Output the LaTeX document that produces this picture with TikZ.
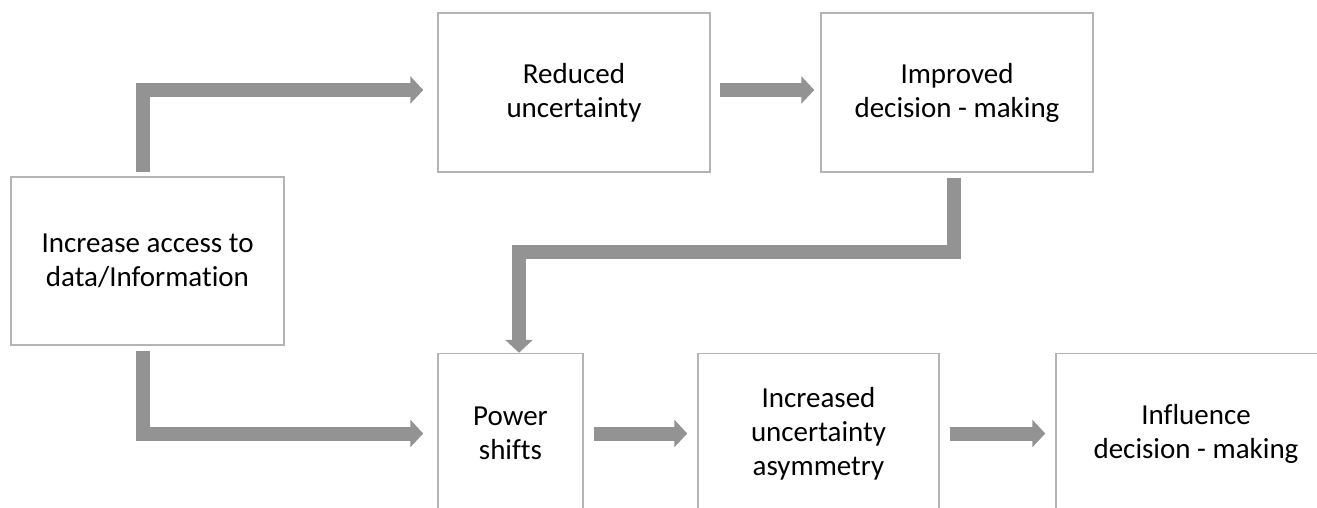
\documentclass[tikz,border=0pt]{standalone}
\usepackage{fontspec}
\setmainfont{Carlito}[Ligatures=NoCommon]
\usetikzlibrary{arrows.meta}
\definecolor{arrowgray}{HTML}{939393}
\definecolor{boxgray}{HTML}{B4B4B4}
\begin{document}
\begin{tikzpicture}[x=1pt,y=-1pt,
  box/.style={draw=boxgray,line width=1.5pt,fill=white,align=center,inner sep=0pt,
    font=\fontsize{29}{34}\selectfont},
  arr/.style={draw=arrowgray,line width=14pt,line join=miter,
    -{Triangle[length=13pt,width=27pt]}}]
\useasboundingbox (0,0) rectangle (1317,508);
\clip (0,0) rectangle (1317,508);
\node[box,minimum width=273pt,minimum height=168pt] (inc) at (147.5,261) {Increase access to\\data/Information};
\node[box,minimum width=272pt,minimum height=159pt] (red) at (574,92.5) {Reduced\\uncertainty};
\node[box,minimum width=272pt,minimum height=159pt] (imp) at (957,92.5) {Improved\\decision - making};
\node[box,minimum width=145pt,minimum height=160pt] (pow) at (510.5,433.5) {Power\\shifts};
\node[box,minimum width=241pt,minimum height=160pt] (incr) at (818.5,433.5) {Increased\\uncertainty\\asymmetry};
\node[box,minimum width=280pt,minimum height=160pt] (infl) at (1196,433.5) {Influence\\decision - making};
\coordinate (bend) at (954,252);
\draw[arr] ([xshift=-4.5pt,yshift=4pt]inc.north) |- ([xshift=-14pt,yshift=2.5pt]red.west);
\draw[arr] ([xshift=9pt,yshift=2.5pt]red.east) -- ([xshift=-6pt,yshift=2.5pt]imp.west);
\draw[arr] ([xshift=-3pt,yshift=-5pt]imp.south) -- (bend) -| ([xshift=8.5pt]pow.north);
\draw[arr] ([xshift=-4.5pt,yshift=-5pt]inc.south) |- ([xshift=-14pt]pow.west);
\draw[arr] ([xshift=10pt]pow.east) -- ([xshift=-10pt]incr.west);
\draw[arr] ([xshift=10pt]incr.east) -- ([xshift=-10pt]infl.west);
\end{tikzpicture}
\end{document}
